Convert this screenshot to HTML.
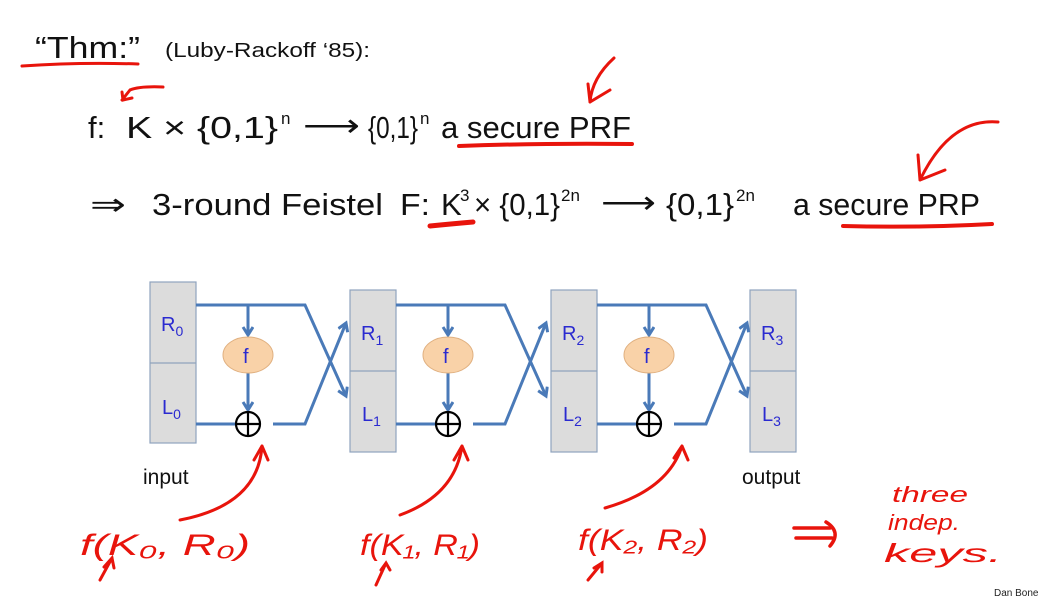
<!DOCTYPE html>
<html><head><meta charset="utf-8"><style>
html,body{margin:0;padding:0;background:#fff;width:1039px;height:601px;overflow:hidden}
svg{display:block}
text{font-family:"Liberation Sans",sans-serif}
</style></head><body>
<svg width="1039" height="601" viewBox="0 0 1039 601" xmlns="http://www.w3.org/2000/svg">
<defs>
<marker id="a" markerWidth="14" markerHeight="14" refX="9" refY="6" orient="auto" markerUnits="userSpaceOnUse"><path d="M1,1 L9,6 L1,11" fill="none" stroke="#4a7ab8" stroke-width="3"/></marker>
</defs>
<text x="35" y="58" font-size="31" fill="#111" textLength="105" lengthAdjust="spacingAndGlyphs">“Thm:”</text>
<text x="165" y="57" font-size="20" fill="#111" textLength="205" lengthAdjust="spacingAndGlyphs">(Luby-Rackoff ‘85):</text>
<g font-size="31" fill="#111">
<text x="88" y="138">f:</text>
<text x="126" y="138" textLength="152" lengthAdjust="spacingAndGlyphs">K × {0,1}</text>
<text x="281" y="124" font-size="17">n</text>
<text x="303" y="136" textLength="57" lengthAdjust="spacingAndGlyphs">⟶</text>
<text x="368" y="138" textLength="50" lengthAdjust="spacingAndGlyphs">{0,1}</text>
<text x="420" y="124" font-size="17">n</text>
<text x="441" y="138" textLength="190" lengthAdjust="spacingAndGlyphs">a secure PRF</text>
<text x="90" y="215" textLength="36" lengthAdjust="spacingAndGlyphs">⇒</text>
<text x="152" y="215" textLength="231" lengthAdjust="spacingAndGlyphs">3-round Feistel</text>
<text x="400" y="215" textLength="30" lengthAdjust="spacingAndGlyphs">F:</text>
<text x="441" y="215">K</text>
<text x="460" y="201" font-size="17">3</text>
<text x="474" y="215" textLength="86" lengthAdjust="spacingAndGlyphs">× {0,1}</text>
<text x="561" y="201" font-size="17">2n</text>
<text x="601" y="213" textLength="55" lengthAdjust="spacingAndGlyphs">⟶</text>
<text x="666" y="215" textLength="68" lengthAdjust="spacingAndGlyphs">{0,1}</text>
<text x="736" y="201" font-size="17">2n</text>
<text x="793" y="215" textLength="187" lengthAdjust="spacingAndGlyphs">a secure PRP</text>
</g>
<g fill="none" stroke="#e8140c" stroke-width="3" stroke-linecap="round">
<path d="M22,66 Q80,62 138,64"/>
<path d="M163,87 Q140,86 130,90 M122,100 L130,90 M122,92 L123,100 L132,98"/>
<path d="M459,146 Q540,143 632,144" stroke-width="4"/>
<path d="M614,58 Q592,78 590,102 M590,102 L588,84 M590,102 L610,90"/>
<path d="M430,226 Q450,224 473,222" stroke-width="5"/>
<path d="M843,226 Q920,228 992,224" stroke-width="4"/>
<path d="M998,122 Q950,118 920,180 M920,180 L918,155 M920,180 L945,170"/>
</g>
<g stroke="#8fa3bd" stroke-width="1.2" fill="#dcdcdc">
<rect x="150" y="282" width="46" height="161"/><line x1="150" y1="363" x2="196" y2="363"/>
<rect x="350" y="290" width="46" height="162"/><line x1="350" y1="371" x2="396" y2="371"/>
<rect x="551" y="290" width="46" height="162"/><line x1="551" y1="371" x2="597" y2="371"/>
<rect x="750" y="290" width="46" height="162"/><line x1="750" y1="371" x2="796" y2="371"/>
</g>
<g font-size="20" fill="#2a2ad0">
<text x="161" y="331">R<tspan font-size="14" dy="5">0</tspan></text>
<text x="162" y="414">L<tspan font-size="14" dy="5">0</tspan></text>
<text x="361" y="340">R<tspan font-size="14" dy="5">1</tspan></text>
<text x="362" y="421">L<tspan font-size="14" dy="5">1</tspan></text>
<text x="562" y="340">R<tspan font-size="14" dy="5">2</tspan></text>
<text x="563" y="421">L<tspan font-size="14" dy="5">2</tspan></text>
<text x="761" y="340">R<tspan font-size="14" dy="5">3</tspan></text>
<text x="762" y="421">L<tspan font-size="14" dy="5">3</tspan></text>
</g>
<g id="r0">
<g fill="none" stroke="#4a7ab8" stroke-width="3">
<path d="M196,305 H305 L346,396" marker-end="url(#a)"/>
<path d="M248,305 V335" marker-end="url(#a)"/>
<path d="M248,373 V410" marker-end="url(#a)"/>
<path d="M196,424 H236"/>
<path d="M273,424 H305 L346,323" marker-end="url(#a)"/>
</g>
<ellipse cx="248" cy="355" rx="25" ry="18" fill="#f9d2a8" stroke="#e0b080" stroke-width="1"/>
<text x="243" y="363" font-size="20" fill="#2a2ad0">f</text>
<circle cx="248" cy="424" r="12" fill="none" stroke="#000" stroke-width="2.2"/>
<path d="M236,424 H260 M248,412 V436" stroke="#000" stroke-width="2.2"/>
</g>
<use href="#r0" transform="translate(200,0)"/>
<use href="#r0" transform="translate(401,0)"/>
<text x="143" y="484" font-size="21" fill="#111">input</text>
<text x="742" y="484" font-size="21" fill="#111">output</text>
<g fill="none" stroke="#e8140c" stroke-width="3" stroke-linecap="round">
<path d="M180,520 Q258,505 262,446 M262,446 L254,460 M262,446 L268,460"/>
<path d="M400,515 Q455,495 462,446 M462,446 L454,460 M462,446 L468,460"/>
<path d="M605,508 Q668,490 682,446 M682,446 L674,458 M682,446 L688,460"/>
<path d="M100,580 L112,558 M104,567 L112,558 L114,568"/>
<path d="M376,585 L386,563 M381,570 L386,563 L390,570"/>
<path d="M588,580 L602,563 M594,568 L602,563 L602,572"/>
<path d="M794,528 H830 M796,538 H832 M826,522 Q842,532 830,546" stroke-width="3.5"/>
</g>
<g fill="#e8140c" font-family="'Liberation Serif',serif" font-style="italic">
<text x="80" y="555" font-size="30" textLength="170" lengthAdjust="spacingAndGlyphs">f(K₀, R₀)</text>
<text x="360" y="555" font-size="30" textLength="120" lengthAdjust="spacingAndGlyphs">f(K₁, R₁)</text>
<text x="578" y="550" font-size="30" textLength="130" lengthAdjust="spacingAndGlyphs">f(K₂, R₂)</text>
<text x="892" y="502" font-size="22" textLength="76" lengthAdjust="spacingAndGlyphs">three</text>
<text x="888" y="530" font-size="22" textLength="72" lengthAdjust="spacingAndGlyphs">indep.</text>
<text x="884" y="562" font-size="26" textLength="118" lengthAdjust="spacingAndGlyphs">keys.</text>
</g>
<text x="994" y="596" font-size="10" fill="#222">Dan Boneh</text>
</svg>
</body></html>
